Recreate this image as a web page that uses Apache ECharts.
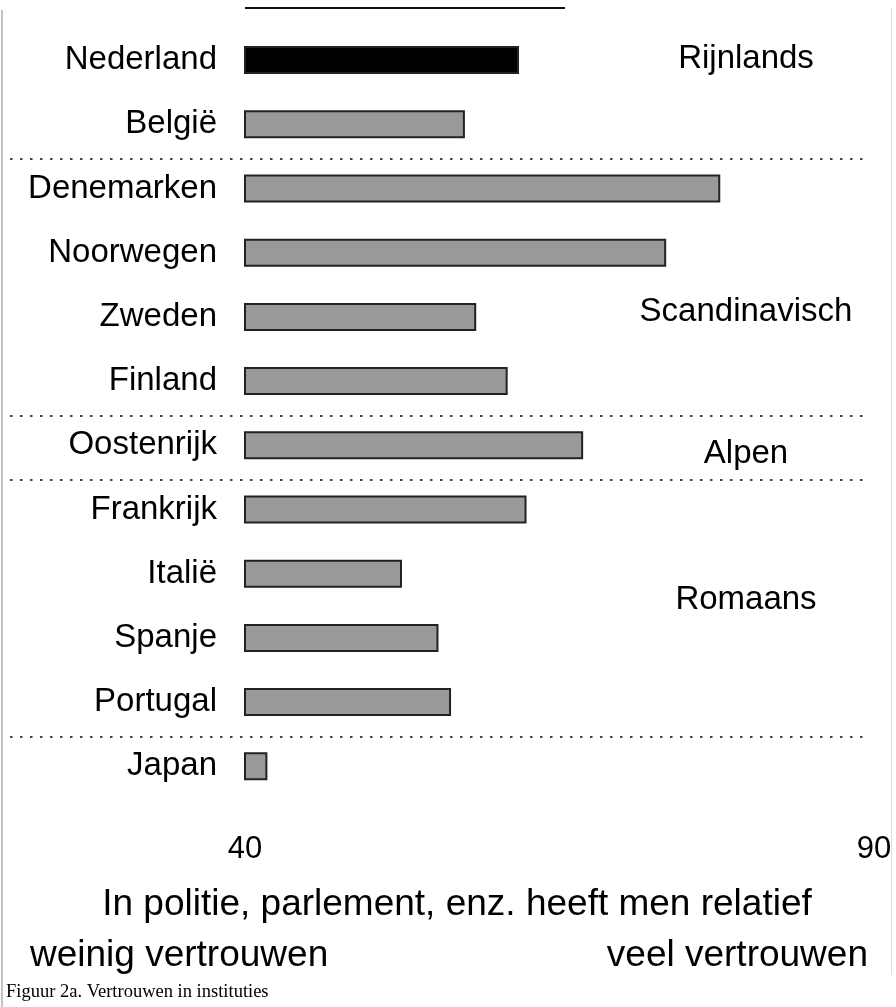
<!DOCTYPE html>
<html>
<head>
<meta charset="utf-8">
<script src="https://cdn.jsdelivr.net/npm/echarts@6.0.0/dist/echarts.min.js"></script>
<style>
html,body{margin:0;padding:0;background:#fff;}
#chart{width:896px;height:1007px;}
</style>
</head>
<body>
<div id="chart"></div>
<script>
// data
var landen = ['Nederland','België','Denemarken','Noorwegen','Zweden','Finland','Oostenrijk','Frankrijk','Italië','Spanje','Portugal','Japan'];
var vertrouwen = [61.7,57.4,77.7,73.4,58.3,60.8,66.8,62.3,52.4,55.3,56.3,41.7];
var asTicks = [40, 90];
var groepen = ['Rijnlands','Scandinavisch','Alpen','Romaans'];
var groepRij = [-0.03, 3.9, 6.12, 8.4];   // row position of the group label
var scheidingNa = [1, 5, 6, 10];          // dotted line after these rows

var font = 'Liberation Sans, Arial, sans-serif';
var chart = echarts.init(document.getElementById('chart'));

chart.setOption({
    animation: false,
    backgroundColor: '#fff',
    grid: {left: 245, right: 22, top: 28, height: 770.4, containLabel: false, outerBoundsMode: 'none'},
    xAxis: {
        type: 'value',
        min: asTicks[0], max: asTicks[1], interval: asTicks[1] - asTicks[0],
        axisLine: {show: false}, axisTick: {show: false}, splitLine: {show: false},
        axisLabel: {fontSize: 31, color: '#000', fontFamily: font, margin: 36}
    },
    yAxis: {
        type: 'category',
        data: landen,
        inverse: true,
        axisLine: {show: false}, axisTick: {show: false}, splitLine: {show: false},
        axisLabel: {fontSize: 33, color: '#000', fontFamily: font, margin: 28}
    },
    series: [{
        type: 'custom',
        silent: true,
        data: vertrouwen.map(function (v, i) { return [v, i]; }),
        encode: {x: 0, y: 1},
        renderItem: function (params, api) {
            var start = api.coord([asTicks[0], api.value(1)]);
            var end = api.coord([api.value(0), api.value(1)]);
            var h = 26;
            return {
                type: 'rect',
                shape: {x: start[0], y: start[1] - h / 2, width: end[0] - start[0], height: h},
                style: {fill: params.dataIndex === 0 ? '#000' : '#999', stroke: '#222', lineWidth: 2}
            };
        }
    }]
});

// rows -> pixels
var y0 = chart.convertToPixel({yAxisIndex: 0}, 0);
var y1 = chart.convertToPixel({yAxisIndex: 0}, 1);
var band = y1 - y0;
function rijY(r) { return y0 + r * band; }

var g = [];
// frame remnants
g.push({type: 'rect', shape: {x: 1, y: 10, width: 2, height: 997}, style: {fill: '#c4c4bc'}, silent: true});
g.push({type: 'rect', shape: {x: 891, y: 8, width: 1, height: 967}, style: {fill: '#dddddd'}, silent: true});
g.push({type: 'line', shape: {x1: 245, y1: 8, x2: 565, y2: 8}, style: {stroke: '#111', lineWidth: 2}, silent: true});

scheidingNa.forEach(function (r) {
    var y = Math.round((rijY(r) + rijY(r + 1)) / 2 + 3);
    g.push({type: 'line', shape: {x1: 10, y1: y, x2: 866, y2: y},
        style: {stroke: '#444', lineWidth: 2, lineDash: [2.5, 7.5]}, silent: true});
});

groepen.forEach(function (naam, i) {
    g.push({type: 'text', x: 746, y: rijY(groepRij[i]) + 1,
        style: {text: naam, font: '33px ' + font, fill: '#000', textAlign: 'center', textVerticalAlign: 'middle'}, silent: true});
});

g.push({type: 'text', x: 457, y: 905,
    style: {text: 'In politie, parlement, enz. heeft men relatief', font: '37px ' + font, fill: '#000', textAlign: 'center', textVerticalAlign: 'middle'}});
g.push({type: 'text', x: 30, y: 956,
    style: {text: 'weinig vertrouwen', font: '37px ' + font, fill: '#000', textAlign: 'left', textVerticalAlign: 'middle'}});
g.push({type: 'text', x: 868, y: 956,
    style: {text: 'veel vertrouwen', font: '37px ' + font, fill: '#000', textAlign: 'right', textVerticalAlign: 'middle'}});
g.push({type: 'text', x: 6, y: 992,
    style: {text: 'Figuur 2a. Vertrouwen in instituties', font: '18.5px Liberation Serif, Times New Roman, serif', fill: '#000', textAlign: 'left', textVerticalAlign: 'middle'}});

chart.setOption({graphic: {elements: g}});
</script>
</body>
</html>
